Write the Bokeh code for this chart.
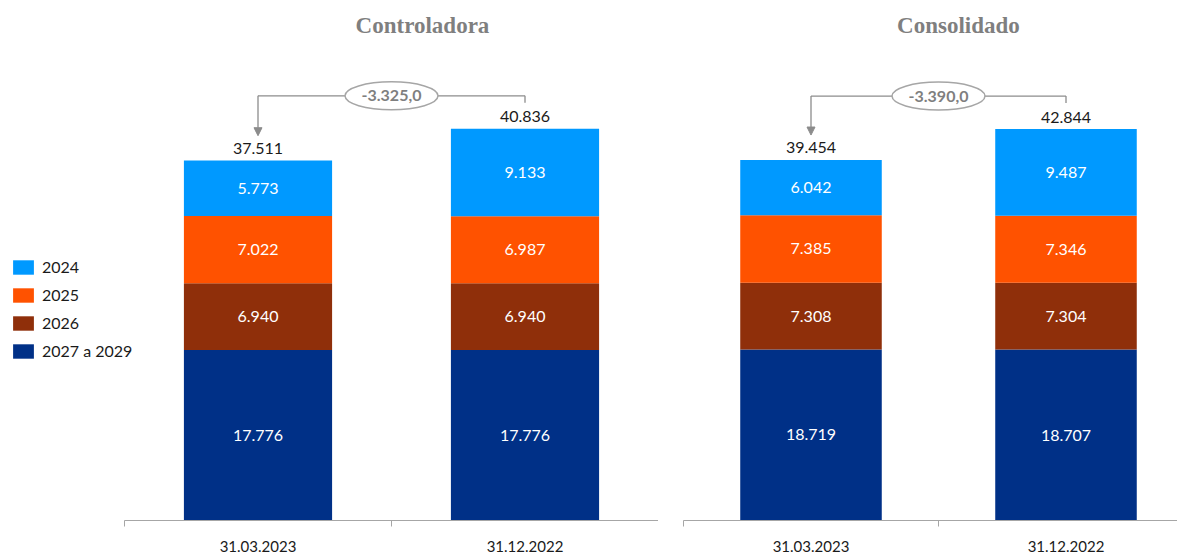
from bokeh.plotting import figure
from bokeh.layouts import row
from bokeh.models import (ColumnDataSource, Range1d, FixedTicker, Legend, LegendItem,
                          Arrow, NormalHead)
from bokeh.core.properties import value
from bokeh.embed import file_html
from bokeh.resources import INLINE

# ---------------- data ----------------
dates = ["31.03.2023", "31.12.2022"]
series = ["2027 a 2029", "2026", "2025", "2024"]          # stacking order, bottom -> top
colors = ["#003087", "#8F2F0A", "#FF5200", "#0099FF"]

ctrl_2027_2029 = [17776, 17776]
ctrl_2026 = [6940, 6940]
ctrl_2025 = [7022, 6987]
ctrl_2024 = [5773, 9133]

cons_2027_2029 = [18719, 18707]
cons_2026 = [7308, 7304]
cons_2025 = [7385, 7346]
cons_2024 = [6042, 9487]

titles = ["Controladora", "Consolidado"]

FONT = "Lato"


def fmt_int(v):
    return f"{v:,.0f}".replace(",", ".")


def fmt_diff(v):
    return f"{v:,.1f}".replace(",", "X").replace(".", ",").replace("X", ".")


def make_panel(title, segs, fig_width, x_start, x_end, y_end, title_x, with_legend=False):
    frame_h = 522.0
    PX = y_end / frame_h
    xs = [i + 0.5 for i in range(len(dates))]
    data = {"x": xs}
    for name, vals in zip(series, segs):
        data[name] = vals
    src = ColumnDataSource(data)

    p = figure(width=fig_width, height=554, x_range=Range1d(x_start, x_end),
               y_range=Range1d(0, y_end),
               output_backend="svg", toolbar_location=None, y_axis_location=None,
               min_border_left=0, min_border_right=0, min_border_top=0,
               min_border_bottom=32)
    p.outline_line_color = None
    p.xgrid.visible = False
    p.ygrid.visible = False
    p.background_fill_color = "white"
    p.border_fill_color = "white"

    rs = p.vbar_stack(series, x="x", width=0.555, color=colors, source=src, line_color=None)

    # x axis
    ax = p.xaxis[0]
    ax.bounds = (0, min(len(dates), x_end))
    ax.ticker = FixedTicker(ticks=xs, minor_ticks=[0, 1, 2])
    ax.major_label_overrides = {x: d for x, d in zip(xs, dates)}
    ax.axis_line_color = "#A6A6A6"
    ax.axis_line_width = 1.2
    ax.major_tick_line_color = None
    ax.major_tick_out = 0
    ax.major_tick_in = 0
    ax.minor_tick_line_color = "#A6A6A6"
    ax.minor_tick_out = 6
    ax.minor_tick_in = 0
    ax.major_label_text_font = FONT
    ax.major_label_text_font_size = "15px"
    ax.major_label_text_color = "#1A1A1A"
    ax.major_label_standoff = 14

    # segment labels
    lx, ly, lt = [], [], []
    bottoms = [0] * len(dates)
    for vals in segs:
        for i, v in enumerate(vals):
            lx.append(xs[i])
            ly.append(bottoms[i] + v / 2)
            lt.append(fmt_int(v))
            bottoms[i] += v
    totals = bottoms
    p.text(x=lx, y=ly, text=lt, text_color="white", text_font=value(FONT),
           text_font_size="16px", text_align="center", text_baseline="middle")

    # totals
    p.text(x=xs, y=[t + 12 * PX for t in totals], text=[fmt_int(t) for t in totals],
           text_color="#1A1A1A", text_font=value(FONT), text_font_size="16px",
           text_align="center", text_baseline="middle")

    # bracket annotation
    gray = "#8C8C8C"
    y_line = max(totals) + 33 * PX
    p.segment(x0=[xs[0], xs[1]], y0=[y_line, totals[1] + 26 * PX],
              x1=[xs[1], xs[1]], y1=[y_line, y_line], line_color=gray, line_width=1.3)
    p.add_layout(Arrow(x_start=xs[0], y_start=y_line, x_end=xs[0], y_end=totals[0] + 25 * PX,
                       line_color=gray, line_width=1.3,
                       end=NormalHead(size=8, fill_color=gray, line_color=gray)))
    xm = (xs[0] + xs[1]) / 2
    p.ellipse(x=[xm], y=[y_line], width=93, height=28, width_units="screen",
              height_units="screen", fill_color="white", line_color="#A6A6A6", line_width=1.5)
    diff = totals[0] - totals[1]
    p.text(x=[xm], y=[y_line], text=[fmt_diff(diff)], text_color="#7F7F7F",
           text_font=value(FONT), text_font_style="bold", text_font_size="16px",
           text_align="center", text_baseline="middle")

    # title
    p.text(x=[title_x], y=[y_end - 25 * PX], text=[title], text_color="#7F7F7F",
           text_font=value("Liberation Serif"), text_font_style="bold", text_font_size="23px",
           text_align="center", text_baseline="middle")

    if with_legend:
        items = [LegendItem(label=s, renderers=[r]) for s, r in zip(series, rs)][::-1]
        leg = Legend(items=items, location=(10, 160), orientation="vertical",
                     glyph_width=26, glyph_height=18, label_height=18, spacing=9,
                     label_standoff=6, padding=0, margin=0, border_line_color=None,
                     background_fill_alpha=0, label_text_font=FONT,
                     label_text_font_size="16px", label_text_color="#1A1A1A")
        p.add_layout(leg)
    return p


# left panel: frame 0..658 px, category unit = 267 px, axis starts at 124 px
p1 = make_panel(titles[0], [ctrl_2027_2029, ctrl_2026, ctrl_2025, ctrl_2024],
                658, -124 / 267, 2.0, 54200, 1.116, with_legend=True)
# right panel: frame 658..1177 px, category unit = 255 px, axis starts at 683 px
p2 = make_panel(titles[1], [cons_2027_2029, cons_2026, cons_2025, cons_2024],
                519, -25 / 255, 494 / 255, 56900, 1.078)

layout = row(p1, p2, spacing=0)
open("out.html", "w").write(file_html(layout, INLINE))
